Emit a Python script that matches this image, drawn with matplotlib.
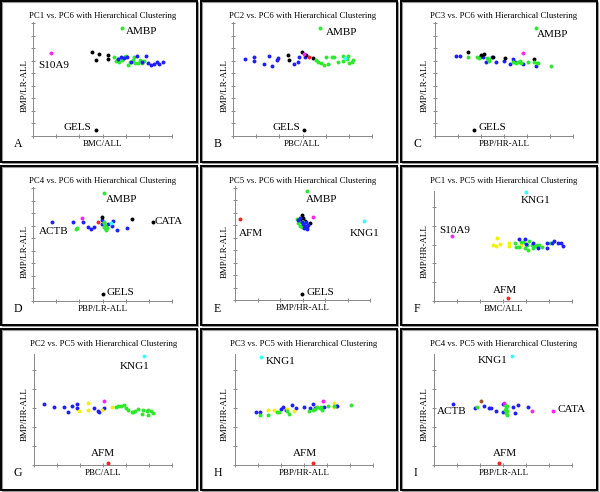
import matplotlib
matplotlib.use('Agg')
import matplotlib.pyplot as plt
from matplotlib.patches import Rectangle

plt.rcParams['font.family'] = ['Liberation Serif', 'DejaVu Serif']

W, H = 600, 492
fig = plt.figure(figsize=(6, 4.92), dpi=100)

COLORS = {'blue': '#1e1eff', 'green': '#2ee82e', 'black': '#000000',
          'magenta': '#ff22ff', 'cyan': '#33ffff', 'red': '#ff2020',
          'yellow': '#f2f200', 'brown': '#a0522d'}

# ---------------- data (scores in tick units) ----------------
panel_A = {
    'black': ([2.53, 2.72, 2.83, 3.22, 3.22, 2.70], [6.72, 6.05, 6.51, 6.45, 6.16, 0.45]),
    'green': ([3.51, 3.57, 3.66, 3.73, 3.83, 3.93, 4.02, 4.10, 4.19, 4.31, 4.38, 4.41, 4.55, 4.62, 4.70, 4.80, 3.83],
              [6.27, 6.00, 6.11, 5.89, 6.05, 6.32, 6.37, 5.63, 5.92, 6.05, 6.27, 5.84, 5.84, 6.05, 5.79, 6.00, 8.64]),
    'blue': ([3.68, 3.80, 3.95, 4.06, 4.23, 4.48, 4.73, 4.87, 4.99, 5.09, 5.23, 5.35, 5.46, 5.61],
             [6.13, 6.27, 6.19, 6.32, 5.92, 6.37, 5.92, 6.37, 5.79, 5.65, 5.71, 5.92, 5.73, 5.92]),
    'magenta': ([0.75], [6.59]),
}
labels_A = [('AMBP', 3.83, 8.64), ('S10A9', 0.75, 6.59), ('GELS', 2.70, 0.45)]

panel_B = {
    'blue': ([0.51, 0.91, 0.91, 1.34, 1.55, 1.69, 1.88, 1.95, 2.63, 2.79, 2.86, 3.11],
             [6.13, 6.27, 5.97, 5.73, 6.37, 5.60, 6.05, 6.24, 5.73, 5.92, 6.32, 6.32]),
    'black': ([2.36, 2.41, 2.96, 3.15, 3.44, 3.06], [6.45, 6.05, 6.67, 6.45, 6.19, 0.45]),
    'magenta': ([3.06], [6.53]),
    'red': ([3.29], [6.32]),
    'green': ([3.58, 3.68, 3.80, 3.93, 4.02, 4.12, 4.29, 4.38, 4.55, 4.74, 4.77, 4.91, 4.96, 5.01, 5.13, 5.20, 3.76],
              [6.05, 5.92, 5.79, 5.65, 6.27, 5.71, 6.32, 6.32, 5.92, 5.97, 6.37, 6.11, 6.37, 5.79, 5.92, 6.05, 8.64]),
    'cyan': ([4.84], [6.19]),
}
labels_B = [('AMBP', 3.76, 8.64), ('GELS', 3.06, 0.45)]

panel_C = {
    'blue': ([0.90, 1.09, 1.96, 2.10, 2.20, 2.46, 2.65, 3.01, 3.26, 3.38, 3.48, 3.84, 4.39],
             [6.40, 6.40, 6.27, 6.32, 5.92, 6.27, 5.92, 5.97, 5.73, 6.13, 5.92, 5.73, 5.60]),
    'black': ([1.45, 2.00, 2.14, 2.54, 3.04, 4.30, 1.70], [6.67, 6.45, 6.51, 6.27, 6.19, 6.11, 0.45]),
    'green': ([1.45, 1.84, 1.93, 2.28, 2.36, 2.33, 3.41, 3.51, 3.62, 3.70, 3.72, 4.06, 4.32, 4.42, 4.49, 5.03, 4.38],
              [6.32, 6.32, 6.24, 6.19, 6.00, 6.11, 5.92, 5.84, 5.92, 5.97, 5.79, 5.92, 5.87, 5.79, 5.79, 5.60, 8.64]),
    'magenta': ([3.81], [6.59]),
}
labels_C = [('AMBP', 4.38, 8.64), ('GELS', 1.70, 0.45)]

panel_D = {
    'blue': ([0.79, 1.73, 2.17, 2.38, 2.49, 2.64, 2.99, 2.99, 3.25, 3.40, 3.47, 3.64, 4.05],
             [6.27, 6.32, 6.27, 5.92, 5.73, 5.92, 6.45, 6.11, 6.11, 5.97, 6.40, 5.65, 5.79]),
    'black': ([2.99, 4.26, 5.17, 3.03], [6.72, 6.51, 6.27, 0.51]),
    'red': ([2.79], [6.32]),
    'magenta': ([2.10], [6.59]),
    'green': ([1.88, 1.85, 3.06, 3.11, 3.15, 3.11, 3.15, 3.08, 3.18, 3.06, 3.08],
              [5.79, 5.71, 6.19, 6.05, 5.92, 5.79, 5.65, 6.32, 5.79, 5.92, 8.64]),
    'cyan': ([3.37], [6.24]),
}
labels_D = [('AMBP', 3.08, 8.64), ('CATA', 5.17, 6.27), ('ACTB', 0.79, 6.27), ('GELS', 3.03, 0.51)]

panel_E = {
    'black': ([2.96, 3.04, 2.89, 3.33, 3.11, 2.99], [6.80, 6.59, 6.40, 6.13, 6.32, 0.45]),
    'green': ([2.74, 2.81, 2.89, 2.96, 2.86, 3.01, 3.07, 3.19], [6.48, 6.13, 5.95, 5.87, 6.27, 6.27, 6.08, 8.75]),
    'blue': ([2.89, 2.96, 3.04, 3.15, 3.11, 3.19, 3.22, 3.26, 3.07, 2.81],
             [6.53, 6.21, 6.05, 6.21, 5.95, 5.87, 5.68, 6.00, 5.79, 6.40]),
    'magenta': ([3.45], [6.61]),
    'red': ([0.22], [6.45]),
    'cyan': ([5.75], [6.32]),
}
labels_E = [('AMBP', 3.19, 8.75), ('AFM', 0.22, 6.45), ('KNG1', 5.75, 6.32), ('GELS', 2.99, 0.45)]

panel_F = {
    'yellow': ([2.57, 2.71, 2.68, 2.86, 3.25, 3.25, 3.77], [2.98, 3.34, 2.95, 3.04, 3.07, 2.95, 2.98]),
    'green': ([3.51, 3.55, 3.70, 3.75, 3.84, 3.94, 4.01, 4.09, 4.12, 4.23, 4.28, 4.38, 4.45, 4.57, 4.67, 5.03],
              [3.11, 2.89, 2.89, 3.16, 3.13, 2.80, 2.98, 2.71, 3.20, 2.98, 2.84, 2.95, 2.98, 2.98, 2.89, 3.07]),
    'blue': ([3.68, 3.94, 3.97, 4.28, 4.52, 4.88, 4.88, 5.10, 5.20, 5.39, 5.49, 5.61],
             [3.29, 3.29, 3.04, 3.07, 2.84, 3.11, 2.84, 3.11, 3.20, 3.07, 3.07, 2.93]),
    'cyan': ([3.97], [5.84]),
    'magenta': ([0.78], [3.46]),
    'red': ([3.22], [0.13]),
}
labels_F = [('KNG1', 3.97, 5.84), ('S10A9', 0.78, 3.46), ('AFM', 3.22, 0.13)]

panel_G = {
    'blue': ([0.43, 0.86, 1.29, 1.48, 1.65, 1.84, 1.87, 2.59, 2.75, 2.81, 3.04],
             [3.24, 3.06, 3.06, 2.78, 3.13, 3.01, 3.22, 3.01, 2.87, 2.78, 3.01]),
    'yellow': ([1.94, 2.35, 2.32, 2.93, 3.36], [2.87, 3.27, 2.88, 2.92, 3.04]),
    'green': ([3.55, 3.65, 3.75, 3.90, 3.99, 4.06, 4.23, 4.30, 4.49, 4.67, 4.74, 4.88, 4.93, 4.96, 5.06, 5.14, 4.38],
              [3.06, 3.10, 3.13, 3.15, 3.01, 2.92, 2.80, 2.80, 2.96, 2.71, 2.92, 2.87, 2.65, 2.92, 2.87, 2.74, 2.87]),
    'magenta': ([3.03], [3.40]),
    'cyan': ([4.78], [5.75]),
    'red': ([3.22], [0.09]),
}
labels_G = [('KNG1', 4.78, 5.75), ('AFM', 3.22, 0.09)]

panel_H = {
    'blue': ([0.90, 1.09, 1.99, 2.10, 2.22, 2.46, 2.65, 3.01, 3.26, 3.38, 3.48, 3.87, 4.39, 4.45],
             [2.78, 2.78, 2.97, 3.06, 2.88, 3.19, 3.01, 3.06, 3.01, 3.24, 3.01, 3.06, 3.13, 3.13]),
    'yellow': ([1.45, 1.70, 2.28, 2.58, 4.30, 4.32], [2.92, 2.92, 2.96, 2.87, 3.27, 3.06]),
    'green': ([1.09, 1.42, 1.84, 1.93, 2.28, 2.36, 3.23, 3.41, 3.48, 3.58, 3.70, 3.72, 3.77, 4.06, 4.30, 5.03],
              [2.62, 2.64, 2.80, 2.80, 2.83, 2.71, 2.87, 2.92, 2.96, 3.04, 3.01, 3.06, 2.92, 3.13, 3.13, 3.15]),
    'magenta': ([3.81], [3.40]),
    'cyan': ([1.12], [5.72]),
    'red': ([3.41], [0.09]),
}
labels_H = [('KNG1', 1.12, 5.72), ('AFM', 3.41, 0.09)]

panel_I = {
    'blue': ([0.80, 1.77, 2.16, 2.39, 2.46, 2.67, 3.00, 3.00, 3.43, 3.51, 3.65, 4.06],
             [3.22, 3.01, 3.10, 3.01, 3.01, 2.87, 3.22, 2.80, 3.06, 2.74, 3.15, 3.06]),
    'green': ([1.84, 3.07, 3.12, 3.14, 3.12, 3.17, 3.07, 3.14], [3.04, 3.15, 3.01, 2.87, 2.74, 2.65, 2.92, 3.10]),
    'brown': ([2.03], [3.40]),
    'magenta': ([3.03, 4.26, 5.17], [3.27, 2.87, 2.87]),
    'cyan': ([3.36], [5.75]),
    'red': ([2.81], [0.09]),
}
labels_I = [('KNG1', 3.36, 5.75), ('ACTB', 0.80, 3.22), ('CATA', 5.17, 2.87), ('AFM', 2.81, 0.09)]

titles = ['PC1 vs. PC6 with Hierarchical Clustering', 'PC2 vs. PC6 with Hierarchical Clustering',
          'PC3 vs. PC6 with Hierarchical Clustering', 'PC4 vs. PC6 with Hierarchical Clustering',
          'PC5 vs. PC6 with Hierarchical Clustering', 'PC1 vs. PC5 with Hierarchical Clustering',
          'PC2 vs. PC5 with Hierarchical Clustering', 'PC3 vs. PC5 with Hierarchical Clustering',
          'PC4 vs. PC5 with Hierarchical Clustering']
xlabels = ['BMC/ALL', 'PBC/ALL', 'PBP/HR-ALL', 'PBP/LR-ALL', 'BMP/HR-ALL', 'BMC/ALL',
           'PBC/ALL', 'PBP/HR-ALL', 'PBP/LR-ALL']
ylabels = ['BMP/LR-ALL'] * 5 + ['BMP/HR-ALL'] * 4
letters = ['A', 'B', 'C', 'D', 'E', 'F', 'G', 'H', 'I']

# ---------------- layout / style (pixels) ----------------
panels = [panel_A, panel_B, panel_C, panel_D, panel_E, panel_F, panel_G, panel_H, panel_I]
label_sets = [labels_A, labels_B, labels_C, labels_D, labels_E, labels_F, labels_G, labels_H, labels_I]
# per-panel geometry in 3x-zoom pixel units relative to grid cell: (x origin, x unit, y bottom, y unit, ymax)
geo = [(100, 69.2, 407, 37.5, 9.1), (100, 69.2, 407, 37.5, 9.1), (105, 69, 407, 37.5, 9.1),
       (100, 69.2, 407, 37.5, 9.1), (105, 67.5, 405, 37.5, 9.1), (103, 69, 407, 56, 5.9),
       (103, 69, 410, 56.5, 5.85), (105, 69, 410, 56.5, 5.85), (103, 69, 410, 56.5, 5.85)]
# label offsets (pixels) and alignment
label_style = {
    0: [(4, -4, 'left'), (3, -12, 'center'), (-4, 3, 'right')],
    1: [(6, -5, 'left'), (-4, 3, 'right')],
    2: [(1, -7, 'left'), (4, 3, 'left')],
    3: [(2, -7, 'left'), (2, 1, 'left'), (2, -9, 'center'), (3, 2, 'left')],
    4: [(-1, -9, 'left'), (-1, -14, 'left'), (0, -13, 'center'), (4, 2, 'left')],
    5: [(10, -9, 'center'), (2, 6, 'center'), (-3, 8, 'center')],
    6: [(-10, -10, 'center'), (-5, 9, 'center')],
    7: [(5, -5, 'left'), (-8, 9, 'center')],
    8: [(-4, -4, 'right'), (-1, -7, 'center'), (4, 1, 'left'), (6, 9, 'center')],
}
col_off = [0, 200, 400]
row_off = [0, 165, 328]
box_x = [1, 201, 401]
box_y = [1, 166, 329]
box_h = [161, 159, 161]

def fx(px):
    return px / W

def fy(py):
    return 1 - py / H

for i in range(9):
    r, c = divmod(i, 3)
    ox, oy = col_off[c], row_off[r]
    x0z, xu, y0z, yu, ymax = geo[i]
    left = ox + x0z / 3
    right = left + 6 * xu / 3
    bottom = oy + y0z / 3
    top = bottom - ymax * yu / 3

    # frame
    fig.add_artist(Rectangle((fx(box_x[c] + 1.2), fy(box_y[r] + box_h[r] + 1.2)), 196 / W, box_h[r] / H,
                             transform=fig.transFigure, fill=False, lw=0.8, ec='#999999'))
    fig.add_artist(Rectangle((fx(box_x[c]), fy(box_y[r] + box_h[r])), 196 / W, box_h[r] / H,
                             transform=fig.transFigure, fill=False, lw=1.4, ec='black'))

    ax = fig.add_axes([fx(left), fy(bottom), (right - left) / W, (bottom - top) / H])
    ax.set_xlim(0, 6)
    ax.set_ylim(0, ymax)
    ax.set_xticks(range(7))
    ax.set_yticks(range(int(ymax) + 1))
    ax.set_xticklabels([])
    ax.set_yticklabels([])
    ax.tick_params(length=2.5, width=0.6, color='#777777', direction='inout')
    for s in ['top', 'right']:
        ax.spines[s].set_visible(False)
    for s in ['left', 'bottom']:
        ax.spines[s].set_color('#888888')
        ax.spines[s].set_linewidth(0.7)
    ax.patch.set_alpha(0)

    for name, (xs, ys) in panels[i].items():
        ax.scatter(xs, ys, s=8, c=COLORS[name], linewidths=0, zorder=3, clip_on=False)

    for (txt, lx, ly), (dx, dy, ha) in zip(label_sets[i], label_style[i]):
        ax.annotate(txt, (lx, ly), xytext=(dx, dy), textcoords='offset pixels',
                    ha=ha, va='center', fontsize=8, annotation_clip=False)

    cx = (left + right) / 2
    fig.text(fx(cx), fy(oy + 15.7), titles[i], ha='center', va='center', fontsize=6.3)
    fig.text(fx(cx), fy(bottom + 8.5), xlabels[i], ha='center', va='center', fontsize=6.4)
    fig.text(fx(ox + 25), fy(oy + 86), ylabels[i], ha='center', va='center', fontsize=6.4, rotation=90)
    fig.text(fx(ox + 13.5), fy(bottom + 8.5), letters[i], ha='left', va='center', fontsize=8.5)

fig.savefig('out.png', dpi=100)
